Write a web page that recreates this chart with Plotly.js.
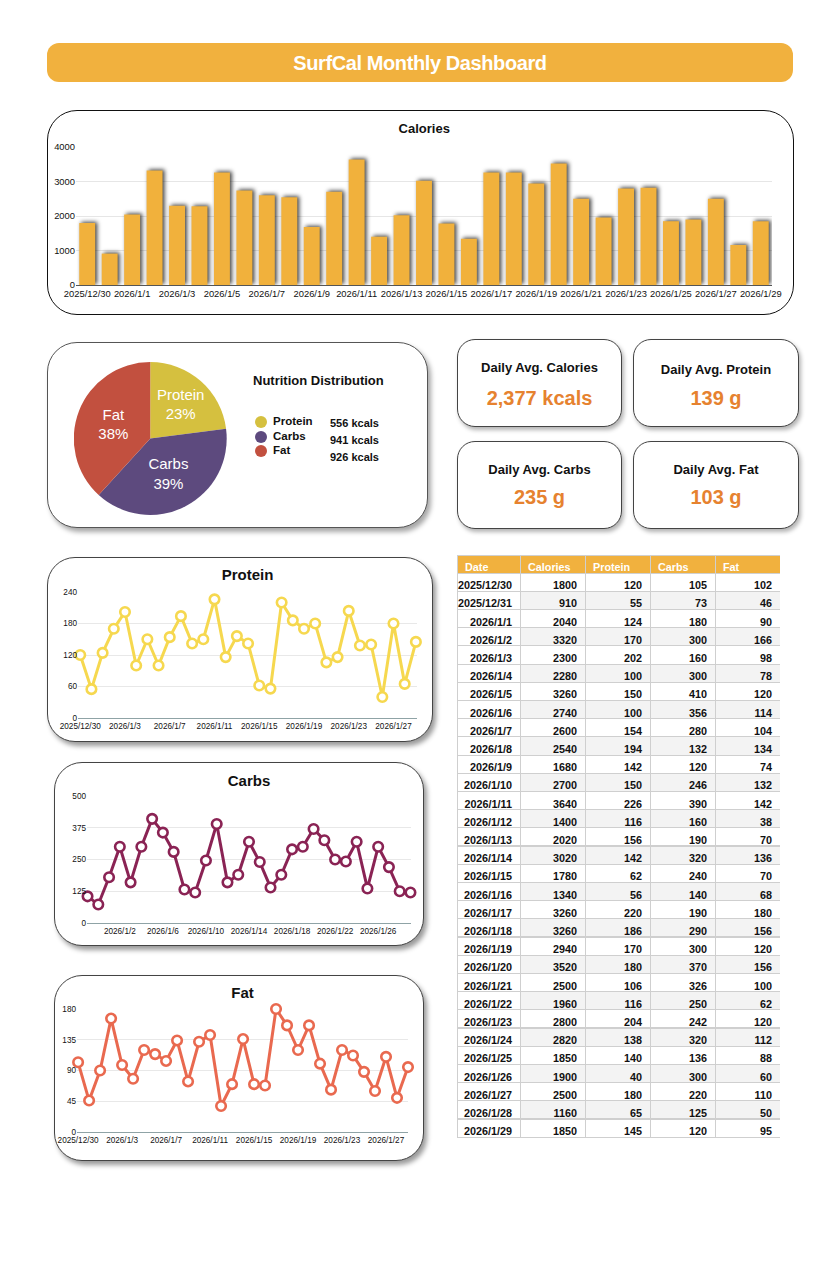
<!DOCTYPE html>
<html>
<head>
<meta charset="utf-8">
<script src="https://cdn.plot.ly/plotly-3.0.1.min.js"></script>
<style>
  html, body { margin:0; padding:0; background:#fff; }
  body { width:840px; height:1262px; position:relative; overflow:hidden;
         font-family:"Liberation Sans", Arial, Helvetica, sans-serif; color:#111; }
  .abs { position:absolute; }
  .banner { left:47px; top:43px; width:746px; height:39px; background:#F1B13E; border-radius:12px;
            color:#fff; font-weight:700; font-size:20px; letter-spacing:-0.4px; text-align:center; line-height:40px; }
  .card { position:absolute; box-sizing:border-box; background:#fff; }
  .calcard { left:47px; top:110px; width:747px; height:205px; border:1.3px solid #111; border-radius:30px; }
  .piecard { left:47px; top:342px; width:381px; height:186px; border:1px solid #555; border-radius:30px;
             box-shadow:3px 4px 5px rgba(0,0,0,0.35); }
  .kpi { border:1px solid #444; border-radius:18px; box-shadow:2px 3px 4px rgba(0,0,0,0.3); }
  .linecard { border:1px solid #444; border-radius:28px; box-shadow:3px 4px 5px rgba(0,0,0,0.4); }
  .kt { position:absolute; left:0; width:100%; text-align:center; font-weight:700; font-size:13px; color:#111; }
  .kv { position:absolute; left:0; width:100%; text-align:center; font-weight:700; font-size:20px; color:#E6822F; }
  .plot { position:absolute; }
  #cal .bars .point path { filter: drop-shadow(2px -1px 2px rgba(0,0,0,0.75)); }
  .lg { position:absolute; font-weight:700; color:#111; white-space:nowrap; }
  .dot { position:absolute; width:12px; height:12px; border-radius:50%; }
</style>
</head>
<body>
<div class="abs banner">SurfCal Monthly Dashboard</div>

<div class="card calcard"></div>
<div id="cal" class="plot" style="left:47px;top:110px;width:747px;height:205px;"></div>

<div class="card piecard"></div>
<div id="pie" class="plot" style="left:47px;top:342px;width:381px;height:186px;"></div>
<div class="lg" style="left:253px;top:373px;font-size:13px;">Nutrition Distribution</div>
<div id="legend"></div>

<div class="card kpi" style="left:457px;top:339px;width:165px;height:88px;">
  <div class="kt" style="top:20px;">Daily Avg. Calories</div>
  <div class="kv" id="kcal" style="top:47px;"></div>
</div>
<div class="card kpi" style="left:633px;top:339px;width:166px;height:88px;">
  <div class="kt" style="top:22px;">Daily Avg. Protein</div>
  <div class="kv" id="kpro" style="top:47px;"></div>
</div>
<div class="card kpi" style="left:457px;top:441px;width:165px;height:88px;">
  <div class="kt" style="top:20px;">Daily Avg. Carbs</div>
  <div class="kv" id="kcarb" style="top:44px;"></div>
</div>
<div class="card kpi" style="left:633px;top:441px;width:166px;height:88px;">
  <div class="kt" style="top:20px;">Daily Avg. Fat</div>
  <div class="kv" id="kfat" style="top:44px;"></div>
</div>

<div id="tbl" class="plot" style="left:457px;top:555px;width:323px;height:590px;"></div>

<div class="card linecard" style="left:47px;top:557px;width:386px;height:185px;"></div>
<div id="pro" class="plot" style="left:47px;top:557px;width:386px;height:185px;"></div>

<div class="card linecard" style="left:54px;top:762px;width:370px;height:184px;"></div>
<div id="carb" class="plot" style="left:54px;top:762px;width:370px;height:184px;"></div>

<div class="card linecard" style="left:54px;top:975px;width:370px;height:186px;"></div>
<div id="fat" class="plot" style="left:54px;top:975px;width:370px;height:186px;"></div>

<script>
// ---------------- DATA ----------------
const dates = ["2025/12/30","2025/12/31","2026/1/1","2026/1/2","2026/1/3","2026/1/4","2026/1/5","2026/1/6",
  "2026/1/7","2026/1/8","2026/1/9","2026/1/10","2026/1/11","2026/1/12","2026/1/13","2026/1/14","2026/1/15",
  "2026/1/16","2026/1/17","2026/1/18","2026/1/19","2026/1/20","2026/1/21","2026/1/22","2026/1/23","2026/1/24",
  "2026/1/25","2026/1/26","2026/1/27","2026/1/28","2026/1/29"];
const calories = [1800,910,2040,3320,2300,2280,3260,2740,2600,2540,1680,2700,3640,1400,2020,3020,1780,1340,
  3260,3260,2940,3520,2500,1960,2800,2820,1850,1900,2500,1160,1850];
const protein = [120,55,124,170,202,100,150,100,154,194,142,150,226,116,156,142,62,56,220,186,170,180,106,116,
  204,138,140,40,180,65,145];
const carbs = [105,73,180,300,160,300,410,356,280,132,120,246,390,160,190,320,240,140,190,290,300,370,326,250,
  242,320,136,300,220,125,120];
const fat = [102,46,90,166,98,78,120,114,104,134,74,132,142,38,70,136,70,68,180,156,120,156,100,62,120,112,88,
  60,110,50,95];
const calTicks = ["2025/12/30","2026/1/1","2026/1/3","2026/1/5","2026/1/7","2026/1/9","2026/1/11","2026/1/13",
  "2026/1/15","2026/1/17","2026/1/19","2026/1/21","2026/1/23","2026/1/25","2026/1/27","2026/1/29"];
const lineTicksA = ["2025/12/30","2026/1/3","2026/1/7","2026/1/11","2026/1/15","2026/1/19","2026/1/23","2026/1/27"];
const lineTicksB = ["2026/1/2","2026/1/6","2026/1/10","2026/1/14","2026/1/18","2026/1/22","2026/1/26"];
const nutrients = ["Protein","Carbs","Fat"];
const nutrientColors = ["#D5C03F","#5D4A7E","#C2503F"];
const tableHeader = ["Date","Calories","Protein","Carbs","Fat"];

// ---------------- DERIVED ----------------
const avg = a => a.reduce((s,v)=>s+v,0)/a.length;
const avgCal = avg(calories), avgPro = avg(protein), avgCarb = avg(carbs), avgFat = avg(fat);
const kcals = [Math.round(avgPro*4), Math.round(avgCarb*4), Math.round(avgFat*9)];

document.getElementById('kcal').textContent = Math.round(avgCal).toLocaleString('en-US') + ' kcals';
document.getElementById('kpro').textContent = Math.round(avgPro) + ' g';
document.getElementById('kcarb').textContent = Math.round(avgCarb) + ' g';
document.getElementById('kfat').textContent = Math.round(avgFat) + ' g';

// legend
const lgTops = [416, 431, 445];
const lgValTops = [417, 434, 451];
let lgHtml = '';
nutrients.forEach((n,i)=>{
  lgHtml += `<div class="dot" style="left:255px;top:${lgTops[i]}px;background:${nutrientColors[i]}"></div>`;
  lgHtml += `<div class="lg" style="left:273px;top:${lgTops[i]-1}px;font-size:11.5px;">${n}</div>`;
  lgHtml += `<div class="lg" style="left:330px;top:${lgValTops[i]}px;font-size:11px;">${kcals[i]} kcals</div>`;
});
document.getElementById('legend').innerHTML = lgHtml;

const FONT = '"Liberation Sans", Arial, Helvetica, sans-serif';
const cfg = {staticPlot:true, displayModeBar:false, responsive:false};

// ---------------- CALORIES BAR ----------------
Plotly.newPlot('cal', [{
  type:'bar', x:dates, y:calories, marker:{color:'#F1B13C', line:{width:0}}, hoverinfo:'skip'
}], {
  width:747, height:205, margin:{l:29, r:22, t:37, b:30},
  paper_bgcolor:'rgba(0,0,0,0)', plot_bgcolor:'rgba(0,0,0,0)',
  font:{family:FONT, color:'#111', size:9.4},
  bargap:0.29, showlegend:false,
  title:{text:'Calories', font:{size:13, weight:700, color:'#111'}, x:0.505, xanchor:'center', xref:'container', y:0.912, yref:'container', yanchor:'middle'},
  xaxis:{type:'category', tickvals:calTicks, ticktext:calTicks, showgrid:false, showline:true, linecolor:'#555', linewidth:1,
         ticks:'', tickangle:0, tickfont:{size:9.4}, automargin:false},
  yaxis:{range:[0,4000], tickvals:[0,1000,2000,3000,4000], showgrid:true, gridcolor:'#e6e6e6', zeroline:false,
         showline:false, ticks:'', tickfont:{size:9.4}, automargin:false}
}, cfg);

// ---------------- PIE ----------------
Plotly.newPlot('pie', [{
  type:'pie', labels:nutrients, values:kcals, sort:false, direction:'clockwise', rotation:0,
  marker:{colors:nutrientColors, line:{width:0}},
  texttemplate:'%{label}<br>%{percent:.0%}', textposition:'inside', insidetextorientation:'horizontal',
  textfont:{size:15, color:'#fff', family:FONT}, hoverinfo:'skip',
  domain:{x:[0.068,0.474], y:[0.07,0.892]}
}], {
  width:381, height:186, margin:{l:0,r:0,t:0,b:0}, showlegend:false,
  paper_bgcolor:'rgba(0,0,0,0)', font:{family:FONT}
}, cfg);

// ---------------- LINE CHARTS ----------------
function lineChart(id, vals, color, title, w, h, m, ymax, ystep, ticks, xr, titleY) {
  const tv = []; for (let v=0; v<=ymax; v+=ystep) tv.push(v);
  Plotly.newPlot(id, [{
    type:'scatter', mode:'lines+markers', x:dates, y:vals, hoverinfo:'skip', cliponaxis:false,
    line:{color:color, width:3},
    marker:{symbol:'circle', size:9.5, color:'#fff', line:{color:color, width:2.6}}
  }], {
    width:w, height:h, margin:m, showlegend:false,
    paper_bgcolor:'rgba(0,0,0,0)', plot_bgcolor:'rgba(0,0,0,0)',
    font:{family:FONT, color:'#111', size:8.2},
    title:{text:title, font:{size:15, weight:700, color:'#111'}, x:(m.l + (w-m.l-m.r)/2)/w, xanchor:'center', xref:'container',
           y:titleY, yref:'container', yanchor:'middle'},
    xaxis:{type:'category', range:xr, tickvals:ticks, ticktext:ticks, showgrid:false, showline:true,
           linecolor:'#8fa3a6', linewidth:1, ticks:'', tickangle:0, tickfont:{size:8.2}, automargin:false},
    yaxis:{range:[0,ymax], tickvals:tv, showgrid:true, gridcolor:'#e8e8e8', zeroline:false, showline:false,
           ticks:'', tickfont:{size:8.2}, automargin:false}
  }, cfg);
}
lineChart('pro', protein, '#F6D84F', 'Protein', 386, 185, {l:31, r:16, t:35, b:24}, 240, 60, lineTicksA, [-0.2, 30.1], 0.903);
lineChart('carb', carbs, '#8A2354', 'Carbs', 370, 184, {l:33, r:13, t:34, b:23}, 500, 125, lineTicksB, [-0.05, 30.05], 0.897);
lineChart('fat', fat, '#E9694F', 'Fat', 370, 186, {l:23, r:16, t:34, b:29}, 180, 45, lineTicksA, [-0.1, 30.0], 0.903);

// ---------------- TABLE ----------------
const white = dates.map(()=> '#ffffff');
const alt = dates.map((d,i)=> i%2===1 ? '#f3f3f3' : '#ffffff');
Plotly.newPlot('tbl', [{
  type:'table', columnwidth:[63,65,65,65,65],
  header:{values:tableHeader, align:'left', height:18, fill:{color:'#F1B13E'},
          font:{family:FONT, size:10.8, color:'#fff', weight:700}, line:{color:'#d0d0d0', width:1}},
  cells:{values:[dates, calories.map(String), protein.map(String), carbs.map(String), fat.map(String)],
         align:'right', height:18.2, fill:{color:[white, alt, alt, alt, alt]},
         font:{family:FONT, size:10.8, color:'#111', weight:700}, line:{color:'#cfcfcf', width:1}}
}], {
  width:323, height:590, margin:{l:0,r:0,t:0,b:0}, paper_bgcolor:'rgba(0,0,0,0)', font:{family:FONT}
}, cfg);
</script>
</body>
</html>
